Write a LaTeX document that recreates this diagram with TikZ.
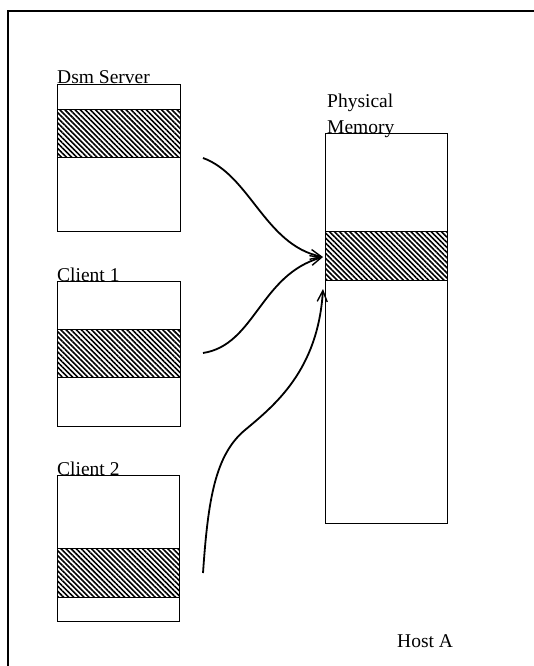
\documentclass[tikz,border=0pt]{standalone}
\usepackage{fontspec}
\setmainfont{Liberation Serif}
\usetikzlibrary{arrows.meta,patterns.meta}
\begin{document}
\begin{tikzpicture}[x=1pt,y=-1pt,
  lbl/.style={anchor=base west,inner sep=0pt,font=\fontsize{19.5}{23}\selectfont},
  membox/.style={draw,line width=1.2pt,anchor=north west,inner sep=0pt,
    minimum width=#1},
  shared/.style={draw,line width=1.2pt,anchor=north west,inner sep=0pt,
    pattern={Lines[angle=-45,distance=3.6pt,line width=1.6pt]}},
  link/.style={line width=1.8pt,-{Straight Barb[length=11pt,width=10pt,line width=1.4pt]}}
]
\useasboundingbox (0,0) rectangle (534,666);

% frame
\draw[line width=1.2pt] (534,11) -- (8,11) -- (8,666);

% Dsm Server address space
\node[membox=123pt,minimum height=147pt] (srv) at (57,84) {};
\node[shared,minimum width=123pt,minimum height=48pt] (srvh) at (57,109) {};
\node[lbl] (srvl) at (57,84) {Dsm Server};

% Client 1 address space
\node[membox=123pt,minimum height=145pt] (c1) at (57,281) {};
\node[shared,minimum width=123pt,minimum height=48pt] (c1h) at (57,329) {};
\node[lbl] (c1l) at (57,281) {Client 1};

% Client 2 address space
\node[membox=122pt,minimum height=146pt] (c2) at (57,475) {};
\node[shared,minimum width=122pt,minimum height=49pt] (c2h) at (57,548) {};
\node[lbl] (c2l) at (57,475) {Client 2};

% physical memory
\node[membox=122pt,minimum height=390pt] (pm) at (325,133) {};
\node[shared,minimum width=122pt,minimum height=49pt] (pmh) at (325,231) {};
\node[lbl] (pml1) at (327,108) {Physical};
\node[lbl] (pml2) at (327,133) {Memory};

\node[lbl] (host) at (397,647) {Host A};

% mappings onto the shared page
\coordinate (s1) at (203,158);
\coordinate (s2) at (203,353);
\coordinate (s3) at (203,573);
\coordinate (m3) at (245,430);
\coordinate (t1) at (323,257);
\coordinate (t3) at (323,289);

\draw[link] (s1) .. controls (250,175) and (265,245) .. (t1);
\draw[link] (s2) .. controls (255,345) and (260,275) .. (t1);
\draw[link] (s3) .. controls (208,500) and (215,455) .. (m3)
  .. controls (275,405) and (318,370) .. (t3);
\end{tikzpicture}
\end{document}
